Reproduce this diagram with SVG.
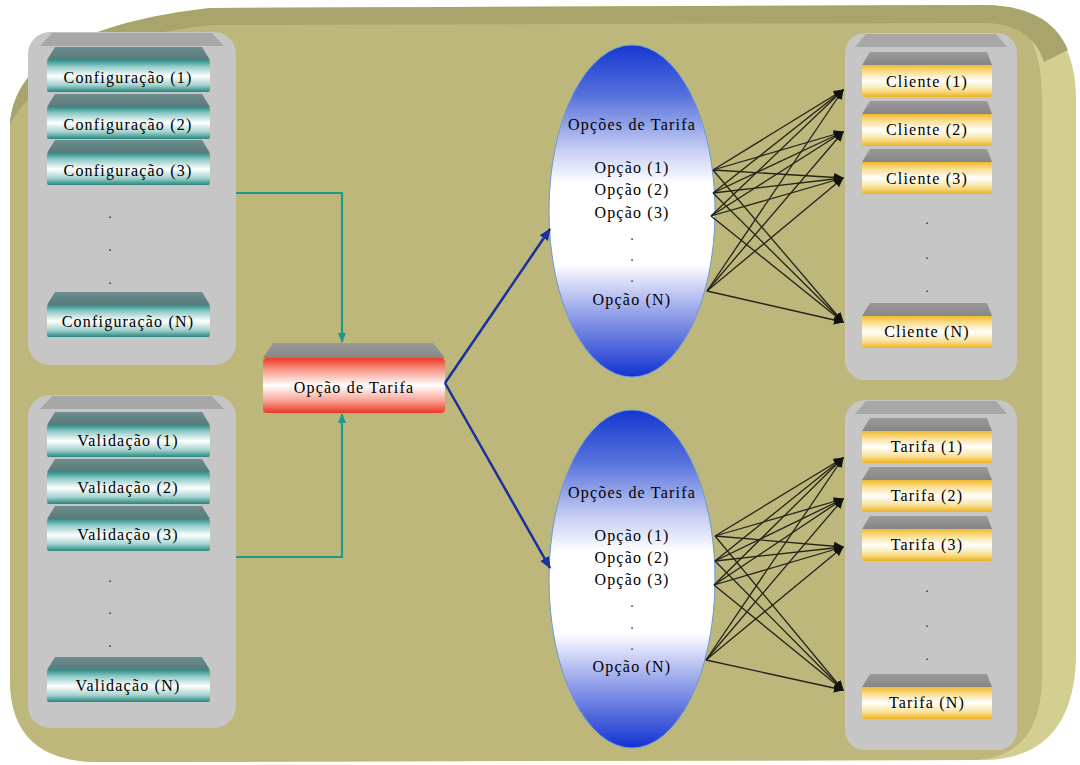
<svg xmlns="http://www.w3.org/2000/svg" width="1080" height="765" viewBox="0 0 1080 765">
<defs>
<linearGradient id="gTeal" x1="0" y1="0" x2="0" y2="1">
<stop offset="0" stop-color="#2a8f8b"/><stop offset="0.2" stop-color="#8fcac6"/><stop offset="0.5" stop-color="#ffffff"/><stop offset="0.78" stop-color="#a6d4d0"/><stop offset="1" stop-color="#26857f"/>
</linearGradient>
<linearGradient id="gGold" x1="0" y1="0" x2="0" y2="1">
<stop offset="0" stop-color="#f2b82a"/><stop offset="0.2" stop-color="#f9dc8a"/><stop offset="0.5" stop-color="#ffffff"/><stop offset="0.78" stop-color="#fae29a"/><stop offset="1" stop-color="#efb21f"/>
</linearGradient>
<linearGradient id="gRed" x1="0" y1="0" x2="0" y2="1">
<stop offset="0" stop-color="#ee3a26"/><stop offset="0.22" stop-color="#f79a8c"/><stop offset="0.5" stop-color="#ffffff"/><stop offset="0.78" stop-color="#f8a294"/><stop offset="1" stop-color="#ec3522"/>
</linearGradient>
<linearGradient id="gBlue" x1="0" y1="0" x2="0" y2="1">
<stop offset="0" stop-color="#1438d0"/><stop offset="0.15" stop-color="#5570dc"/><stop offset="0.32" stop-color="#c9d0f4"/><stop offset="0.42" stop-color="#ffffff"/><stop offset="0.66" stop-color="#ffffff"/><stop offset="0.8" stop-color="#9aa6ea"/><stop offset="1" stop-color="#1232d0"/>
</linearGradient>
<linearGradient id="gTopTeal" x1="0" y1="0" x2="0" y2="1">
<stop offset="0" stop-color="#6c8c8d"/><stop offset="1" stop-color="#587a7b"/>
</linearGradient>
<linearGradient id="gTopGray" x1="0" y1="0" x2="0" y2="1">
<stop offset="0" stop-color="#9a9a9a"/><stop offset="1" stop-color="#868686"/>
</linearGradient>
<marker id="mBlack" markerWidth="10" markerHeight="10" refX="9" refY="5" orient="auto" markerUnits="userSpaceOnUse">
<path d="M0,0.5 L10,5 L0,9.5 Z" fill="#111"/>
</marker>
<marker id="mBlue" markerWidth="12" markerHeight="12" refX="11" refY="6" orient="auto" markerUnits="userSpaceOnUse">
<path d="M0,1 L12,6 L0,11 Z" fill="#1a2fa0"/>
</marker>
<marker id="mTeal" markerWidth="10" markerHeight="10" refX="9" refY="5" orient="auto" markerUnits="userSpaceOnUse">
<path d="M0,1 L10,5 L0,9 Z" fill="#1e9a8a"/>
</marker>
</defs>
<style>
.t{font-family:"Liberation Serif","Times New Roman",serif;font-size:16px;fill:#000;text-anchor:middle;letter-spacing:1.2px}
.dot{font-family:"Liberation Serif",serif;font-size:14px;fill:#333;text-anchor:middle}
.panel{fill:#c6c6c6}
.pbev{fill:#a7a7a7}
.tealTop{fill:url(#gTopTeal)}
.grayTop{fill:url(#gTopGray)}
.teal{fill:url(#gTeal)}
.gold{fill:url(#gGold)}
.red{fill:url(#gRed)}
.fan{stroke:#23231a;stroke-width:1.3;fill:none;marker-end:url(#mBlack)}
.blue{stroke:#1a2fa0;stroke-width:2.5;fill:none;marker-end:url(#mBlue)}
.tl{stroke:#1e9a8a;stroke-width:2.2;fill:none;marker-end:url(#mTeal)}
</style>
<rect width="1080" height="765" fill="#ffffff"/>
<g id="background">
<path d="M10,125 C14,60 85,22 210,8 L985,5 Q1076,6 1076,100 L1076,660 Q1072,758 985,760 L95,762 Q10,760 10,680 Z" fill="#d3cf92"/>
<path d="M10,125 C14,60 85,22 210,10 L985,10 Q1042,12 1042,100 L1042,680 Q1040,757 975,760 L95,762 Q10,760 10,680 Z" fill="#bdb77b"/>
<path d="M10,125 C14,60 85,22 210,8 L985,5 Q1050,6 1068,50 L1044,62 Q1032,24 985,23 L212,25 C110,35 40,70 10,125 Z" fill="#a9a46b"/>
</g>
<g id="panel-config">
<rect class="panel" x="28" y="32" width="208" height="333" rx="22"/>
<path class="pbev" d="M40,46 L224,46 L212,33 L52,33 Z"/>
</g>
<g id="panel-validacao">
<rect class="panel" x="28" y="395" width="208" height="333" rx="22"/>
<path class="pbev" d="M40,409 L224,409 L212,396 L52,396 Z"/>
</g>
<g id="panel-cliente">
<rect class="panel" x="845" y="33" width="172" height="347" rx="20"/>
<path class="pbev" d="M855,47 L1007,47 L996,34 L866,34 Z"/>
</g>
<g id="panel-tarifa">
<rect class="panel" x="845" y="400" width="172" height="350" rx="20"/>
<path class="pbev" d="M855,414 L1007,414 L996,401 L866,401 Z"/>
</g>
<g id="config-1"><path class="tealTop" d="M47,60 L210,60 L202,47 L55,47 Z"/><rect class="teal" x="47" y="60" width="163" height="32" rx="2"/><text class="t" x="128" y="83">Configuração (1)</text></g>
<g id="config-2"><path class="tealTop" d="M47,107 L210,107 L202,94 L55,94 Z"/><rect class="teal" x="47" y="107" width="163" height="32" rx="2"/><text class="t" x="128" y="130">Configuração (2)</text></g>
<g id="config-3"><path class="tealTop" d="M47,153 L210,153 L202,140 L55,140 Z"/><rect class="teal" x="47" y="153" width="163" height="32" rx="2"/><text class="t" x="128" y="176">Configuração (3)</text></g>
<g id="config-dots"><text class="dot" x="110" y="218">.</text><text class="dot" x="110" y="251">.</text><text class="dot" x="110" y="284">.</text></g>
<g id="config-N"><path class="tealTop" d="M47,305 L210,305 L202,292 L55,292 Z"/><rect class="teal" x="47" y="305" width="163" height="32" rx="2"/><text class="t" x="128" y="327">Configuração (N)</text></g>
<g id="valid-1"><path class="tealTop" d="M47,425 L210,425 L202,412 L55,412 Z"/><rect class="teal" x="47" y="425" width="163" height="32" rx="2"/><text class="t" x="128" y="446">Validação (1)</text></g>
<g id="valid-2"><path class="tealTop" d="M47,472 L210,472 L202,459 L55,459 Z"/><rect class="teal" x="47" y="472" width="163" height="32" rx="2"/><text class="t" x="128" y="493">Validação (2)</text></g>
<g id="valid-3"><path class="tealTop" d="M47,519 L210,519 L202,506 L55,506 Z"/><rect class="teal" x="47" y="519" width="163" height="32" rx="2"/><text class="t" x="128" y="540">Validação (3)</text></g>
<g id="valid-dots"><text class="dot" x="110" y="582">.</text><text class="dot" x="110" y="614">.</text><text class="dot" x="110" y="647">.</text></g>
<g id="valid-N"><path class="tealTop" d="M47,670 L210,670 L202,657 L55,657 Z"/><rect class="teal" x="47" y="670" width="163" height="32" rx="2"/><text class="t" x="128" y="691">Validação (N)</text></g>
<g id="opcao-tarifa"><path class="grayTop" d="M263,358 L445,358 L433,343 L273,343 Z"/><rect class="red" x="263" y="358" width="182" height="55" rx="4"/><text class="t" x="354" y="393">Opção de Tarifa</text></g>
<g id="opcoes-top"><ellipse cx="632" cy="211" rx="83" ry="166" fill="url(#gBlue)" stroke="#6a9ad8" stroke-width="1"/>
<text class="t" x="632" y="130">Opções de Tarifa</text>
<text class="t" x="632" y="173">Opção (1)</text><text class="t" x="632" y="195">Opção (2)</text><text class="t" x="632" y="218">Opção (3)</text>
<text class="dot" x="632" y="240">.</text><text class="dot" x="632" y="261">.</text><text class="dot" x="632" y="282">.</text>
<text class="t" x="632" y="305">Opção (N)</text></g>
<g id="opcoes-bottom"><ellipse cx="632" cy="579" rx="83" ry="169" fill="url(#gBlue)" stroke="#6a9ad8" stroke-width="1"/>
<text class="t" x="632" y="498">Opções de Tarifa</text>
<text class="t" x="632" y="541">Opção (1)</text><text class="t" x="632" y="563">Opção (2)</text><text class="t" x="632" y="585">Opção (3)</text>
<text class="dot" x="632" y="607">.</text><text class="dot" x="632" y="629">.</text><text class="dot" x="632" y="650">.</text>
<text class="t" x="632" y="672">Opção (N)</text></g>
<g id="cliente-1"><path class="grayTop" d="M862,65 L992,65 L987,52 L870,52 Z"/><rect class="gold" x="862" y="65" width="130" height="32" rx="2"/><text class="t" x="927" y="87">Cliente (1)</text></g>
<g id="cliente-2"><path class="grayTop" d="M862,114 L992,114 L987,101 L870,101 Z"/><rect class="gold" x="862" y="114" width="130" height="32" rx="2"/><text class="t" x="927" y="135">Cliente (2)</text></g>
<g id="cliente-3"><path class="grayTop" d="M862,162 L992,162 L987,149 L870,149 Z"/><rect class="gold" x="862" y="162" width="130" height="32" rx="2"/><text class="t" x="927" y="184">Cliente (3)</text></g>
<g id="cliente-dots"><text class="dot" x="927" y="224">.</text><text class="dot" x="927" y="259">.</text><text class="dot" x="927" y="292">.</text></g>
<g id="cliente-N"><path class="grayTop" d="M862,316 L992,316 L987,303 L870,303 Z"/><rect class="gold" x="862" y="316" width="130" height="32" rx="2"/><text class="t" x="927" y="337">Cliente (N)</text></g>
<g id="tarifa-1"><path class="grayTop" d="M862,431 L992,431 L987,418 L870,418 Z"/><rect class="gold" x="862" y="431" width="130" height="32" rx="2"/><text class="t" x="927" y="452">Tarifa (1)</text></g>
<g id="tarifa-2"><path class="grayTop" d="M862,480 L992,480 L987,467 L870,467 Z"/><rect class="gold" x="862" y="480" width="130" height="32" rx="2"/><text class="t" x="927" y="501">Tarifa (2)</text></g>
<g id="tarifa-3"><path class="grayTop" d="M862,529 L992,529 L987,516 L870,516 Z"/><rect class="gold" x="862" y="529" width="130" height="32" rx="2"/><text class="t" x="927" y="550">Tarifa (3)</text></g>
<g id="tarifa-dots"><text class="dot" x="927" y="592">.</text><text class="dot" x="927" y="627">.</text><text class="dot" x="927" y="660">.</text></g>
<g id="tarifa-N"><path class="grayTop" d="M862,687 L992,687 L987,674 L870,674 Z"/><rect class="gold" x="862" y="687" width="130" height="32" rx="2"/><text class="t" x="927" y="708">Tarifa (N)</text></g>
<g id="connectors">
<path class="tl" d="M236,193 L342,193 L342,342"/>
<path class="tl" d="M236,557 L342,557 L342,414"/>
<path class="blue" d="M445,383 L550,229"/>
<path class="blue" d="M445,383 L550,568"/>
<path class="fan" d="M713,170 L843,90"/><path class="fan" d="M713,170 L843,132"/><path class="fan" d="M713,170 L843,178"/><path class="fan" d="M713,170 L843,322"/>
<path class="fan" d="M713,193 L843,90"/><path class="fan" d="M713,193 L843,132"/><path class="fan" d="M713,193 L843,178"/><path class="fan" d="M713,193 L843,322"/>
<path class="fan" d="M711,216 L843,90"/><path class="fan" d="M711,216 L843,132"/><path class="fan" d="M711,216 L843,178"/><path class="fan" d="M711,216 L843,322"/>
<path class="fan" d="M707,291 L843,90"/><path class="fan" d="M707,291 L843,132"/><path class="fan" d="M707,291 L843,178"/><path class="fan" d="M707,291 L843,322"/>
<path class="fan" d="M715,536 L843,458"/><path class="fan" d="M715,536 L843,499"/><path class="fan" d="M715,536 L843,547"/><path class="fan" d="M715,536 L843,690"/>
<path class="fan" d="M715,561 L843,458"/><path class="fan" d="M715,561 L843,499"/><path class="fan" d="M715,561 L843,547"/><path class="fan" d="M715,561 L843,690"/>
<path class="fan" d="M714,585 L843,458"/><path class="fan" d="M714,585 L843,499"/><path class="fan" d="M714,585 L843,547"/><path class="fan" d="M714,585 L843,690"/>
<path class="fan" d="M706,660 L843,458"/><path class="fan" d="M706,660 L843,499"/><path class="fan" d="M706,660 L843,547"/><path class="fan" d="M706,660 L843,690"/>
</g>
</svg>
